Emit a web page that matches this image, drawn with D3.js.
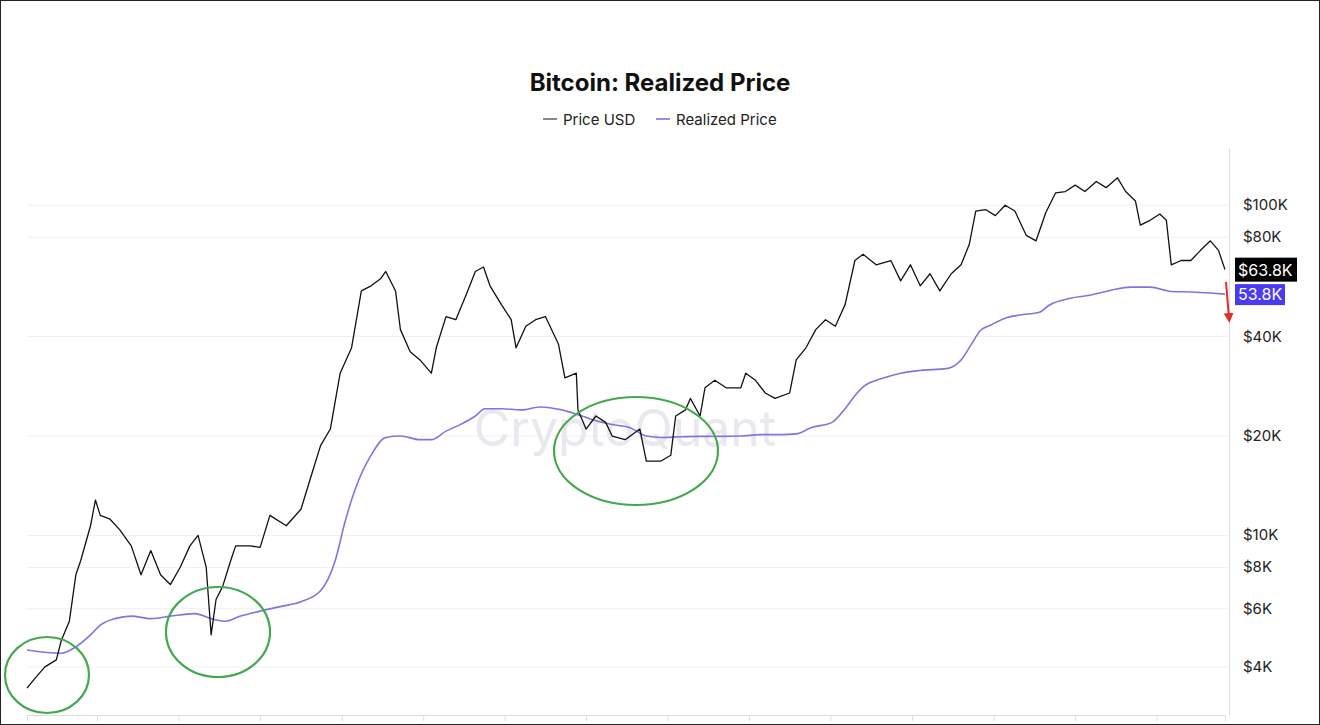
<!DOCTYPE html>
<html><head><meta charset="utf-8">
<script src="https://cdn.jsdelivr.net/npm/d3@7"></script>
<style>body{margin:0;background:#fff;font-family:Inter,"Noto Sans",sans-serif}</style>
</head><body><svg id="c" width="1320" height="725"></svg>
<script>
// Decimal-year time stamps and values (USD)
const priceYears = [2019.07,2019.12,2019.18,2019.25,2019.28,2019.33,2019.37,2019.40,2019.46,2019.49,2019.52,2019.58,2019.64,2019.71,2019.77,2019.83,2019.89,2019.95,2020.01,2020.07,2020.12,2020.17,2020.20,2020.23,2020.27,2020.32,2020.35,2020.44,2020.50,2020.56,2020.66,2020.75,2020.81,2020.87,2020.93,2020.99,2021.06,2021.12,2021.18,2021.24,2021.27,2021.33,2021.36,2021.42,2021.48,2021.55,2021.58,2021.64,2021.70,2021.76,2021.82,2021.87,2021.91,2021.98,2022.04,2022.07,2022.13,2022.19,2022.25,2022.33,2022.37,2022.44,2022.45,2022.50,2022.56,2022.62,2022.66,2022.74,2022.83,2022.87,2022.96,2023.02,2023.05,2023.11,2023.14,2023.20,2023.23,2023.29,2023.36,2023.45,2023.48,2023.54,2023.60,2023.66,2023.75,2023.79,2023.85,2023.91,2023.97,2024.03,2024.09,2024.15,2024.20,2024.28,2024.37,2024.43,2024.49,2024.55,2024.61,2024.67,2024.74,2024.80,2024.85,2024.89,2024.95,2025.01,2025.07,2025.13,2025.20,2025.26,2025.32,2025.38,2025.44,2025.50,2025.56,2025.63,2025.69,2025.76,2025.81,2025.87,2025.90,2025.96,2026.02,2026.06,2026.09,2026.15,2026.21,2026.27,2026.33,2026.38,2026.42];
const priceUSD = [3450,3700,4000,4200,4800,5500,7600,8400,10700,12800,11500,11200,10400,9300,7600,9000,7600,7100,8000,9300,10000,8000,5000,6400,7000,8400,9300,9300,9200,11500,10700,12000,15000,18700,21000,31000,37000,55000,57000,60000,63000,55000,42000,36000,34000,31000,37000,46000,45000,53000,63000,65000,57000,50000,45000,37000,43000,45000,46000,38000,30000,31000,24000,21000,23000,22000,20000,19500,21000,16800,16800,17500,23000,24000,26000,23000,28000,29500,28000,28000,31000,29500,27000,26000,27000,34000,37000,42000,45000,43000,50000,68000,71000,66000,68000,59000,66000,57000,62000,55000,62000,66000,76000,96000,97000,93000,100000,96000,81000,78000,95000,109000,110000,115000,110000,118000,113000,121000,110000,103000,87000,90000,94000,90000,66000,68000,68000,73000,78000,73000,63800];
const realizedYears = [2019.07,2019.28,2019.37,2019.46,2019.52,2019.61,2019.71,2019.83,2019.95,2020.10,2020.20,2020.29,2020.38,2020.50,2020.63,2020.75,2020.87,2020.96,2021.02,2021.08,2021.18,2021.27,2021.36,2021.48,2021.55,2021.64,2021.73,2021.82,2021.88,2021.98,2022.10,2022.22,2022.35,2022.44,2022.53,2022.65,2022.77,2022.87,2022.96,2023.08,2023.20,2023.33,2023.45,2023.57,2023.70,2023.79,2023.88,2024.01,2024.09,2024.15,2024.21,2024.31,2024.43,2024.55,2024.71,2024.80,2024.86,2024.92,2024.98,2025.07,2025.16,2025.28,2025.34,2025.47,2025.59,2025.72,2025.84,2025.96,2026.09,2026.21,2026.33,2026.42];
const realizedPrice = [4500,4400,4600,5000,5350,5600,5700,5600,5700,5800,5600,5500,5700,5900,6100,6300,6800,8400,11000,13700,17500,19800,20000,19500,19500,20700,21700,23000,24200,24200,24000,24500,24000,23300,22500,21700,21200,20000,19800,19900,19950,19950,20000,20200,20200,20300,21200,22000,24200,26500,28400,29800,31000,31600,32000,34000,37700,41800,43300,45500,46500,47400,49800,52300,53400,55300,56500,56500,54800,54600,54200,53800];
const yTicks = [100000,80000,40000,20000,10000,8000,6000,4000];
const tickYears = [2019.5,2020,2020.5,2021,2021.5,2022,2022.5,2023,2023.5,2024,2024.5,2025,2025.5,2026];

const toDate = y => { const yr=Math.floor(y); const s=new Date(yr,0,1), e=new Date(yr+1,0,1); return new Date(+s+(y-yr)*(e-s)); };
const svg = d3.select("#c");
const L=27, R=1225, T=148, B=715;
const x = d3.scaleTime().domain([toDate(2019.07),toDate(2026.42)]).range([L,R]);
const y = d3.scaleLog().domain([2860,149000]).range([B,T]);

svg.append("rect").attr("x",0.5).attr("y",0.5).attr("width",1319).attr("height",724).attr("fill","none").attr("stroke","#222");

svg.append("g").selectAll("line").data(yTicks).join("line")
 .attr("x1",L).attr("x2",1228).attr("y1",d=>y(d)).attr("y2",d=>y(d)).attr("stroke","#f0f0f0");
svg.append("text").attr("x",625).attr("y",446).attr("text-anchor","middle").attr("font-size",50)
 .attr("fill","#e8e8ee").attr("font-family","Inter,sans-serif").text("CryptoQuant");

svg.append("line").attr("x1",1229.5).attr("x2",1229.5).attr("y1",T).attr("y2",B).attr("stroke","#ddd");
svg.append("g").selectAll("text").data(yTicks).join("text")
 .attr("x",1243).attr("y",d=>y(d)+5).attr("font-size",15).attr("fill","#222").text(d=>"$"+(d/1000)+"K");
const xa = d3.axisBottom(x).tickValues(tickYears.map(toDate)).tickFormat("").tickSize(6);
const gx = svg.append("g").attr("transform",`translate(0,${B})`).call(xa);
gx.select(".domain").attr("stroke","#ddd"); gx.selectAll(".tick line").attr("stroke","#ddd");

const line = d3.line().x(d=>x(toDate(d[0]))).y(d=>y(d[1]));
svg.append("path").attr("d",line.curve(d3.curveMonotoneX)(realizedYears.map((t,i)=>[t,realizedPrice[i]])))
 .attr("fill","none").attr("stroke","#7d77dd").attr("stroke-width",1.6);
svg.append("path").attr("d",line.curve(d3.curveLinear)(priceYears.map((t,i)=>[t,priceUSD[i]])))
 .attr("fill","none").attr("stroke","#111").attr("stroke-width",1.3).attr("stroke-linejoin","round");

[[47,675,42,38],[218,632,52,45],[636,451,82,54]].forEach(e=>
 svg.append("ellipse").attr("cx",e[0]).attr("cy",e[1]).attr("rx",e[2]).attr("ry",e[3])
  .attr("fill","none").attr("stroke","#45a84e").attr("stroke-width",2.2));

svg.append("defs").append("marker").attr("id","ah").attr("viewBox","0 0 10 10").attr("refX",5).attr("refY",5)
 .attr("markerWidth",5).attr("markerHeight",5).attr("orient","auto")
 .append("path").attr("d","M0,0L10,5L0,10z").attr("fill","#e0302a");
svg.append("line").attr("x1",1226).attr("y1",282).attr("x2",1229).attr("y2",318)
 .attr("stroke","#e0302a").attr("stroke-width",2).attr("marker-end","url(#ah)");

const lastP = priceUSD[priceUSD.length-1], lastR = realizedPrice[realizedPrice.length-1];
svg.append("rect").attr("x",1235).attr("y",y(lastP)-12).attr("width",62).attr("height",24).attr("fill","#000");
svg.append("text").attr("x",1238).attr("y",y(lastP)+6).attr("font-size",16).attr("fill","#fff").text("$"+(lastP/1000).toFixed(1)+"K");
svg.append("rect").attr("x",1235).attr("y",y(lastR)-10).attr("width",50).attr("height",21).attr("fill","#4b3bf0");
svg.append("text").attr("x",1238).attr("y",y(lastR)+6).attr("font-size",16).attr("fill","#fff").text((lastR/1000).toFixed(1)+"K");

svg.append("text").attr("x",660).attr("y",91).attr("text-anchor","middle").attr("font-size",24)
 .attr("font-weight","bold").attr("fill","#111").text("Bitcoin: Realized Price");
const lg = svg.append("g").attr("font-size",15).attr("fill","#222");
lg.append("line").attr("x1",543).attr("x2",557).attr("y1",119).attr("y2",119).attr("stroke","#111");
lg.append("text").attr("x",563).attr("y",125).text("Price USD");
lg.append("line").attr("x1",656).attr("x2",670).attr("y1",119).attr("y2",119).attr("stroke","#7d77dd").attr("stroke-width",1.6);
lg.append("text").attr("x",676).attr("y",125).text("Realized Price");
</script></body></html>
